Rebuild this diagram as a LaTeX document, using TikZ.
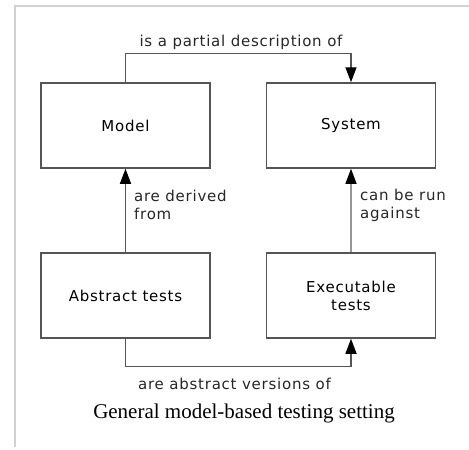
\documentclass[tikz,border=0pt]{standalone}
\usepackage{fontspec}
\setmainfont{Liberation Serif}
\newfontfamily\diafont[LetterSpace=5]{DejaVu Sans}
\usetikzlibrary{arrows.meta,positioning}

\definecolor{lineclr}{RGB}{85,85,85}
\definecolor{lightclr}{RGB}{150,150,150}
\definecolor{frameclr}{RGB}{210,210,210}

\begin{document}
\begin{tikzpicture}[
  x=1pt, y=-1pt,
  font=\diafont\fontsize{15}{18}\selectfont,
  box/.style={draw=lineclr, line width=1.5pt, rectangle, minimum width=169pt, minimum height=85pt, align=center, inner sep=0pt},
  lbl/.style={align=left, inner sep=0pt, text=black!85},
  arr/.style={-{Triangle[length=15pt,width=11pt,color=black]}, draw=lineclr, line width=1.4pt}
]
\useasboundingbox (0,0) rectangle (469,450);
% page frame
\draw[frameclr, line width=1.2pt] (469,6) -- (15,6) -- (15,447);

\node[box] (model) at (125.5,125.5) {Model};
\node[box] (system) at (351,125.5) {System};
\node[box] (abstract) at (125.5,295.5) {Abstract tests};
\node[box] (exec) at (351,295.5) {Executable\\tests};

\draw[arr] (model.north) -- ++(0,-29) -| (system.north);
\draw[arr] (abstract.north) -- (model.south);
\draw[arr, draw=lightclr] (exec.north) -- (system.south);
\draw[arr] (abstract.south) -- ++(0,28) -| (exec.south);

\node[lbl] (partial) at (241,42) {is a partial description of};
\node[lbl, anchor=west] (derived) at (134,205) {are derived\\from};
\node[lbl, anchor=west] (runs) at (360,205) {can be run\\against};
\node[lbl] (versions) at (234.5,384) {are abstract versions of};
\node[font=\rmfamily\fontsize{21}{24}\selectfont] (caption) at (244,413) {General model-based testing setting};
\end{tikzpicture}
\end{document}
